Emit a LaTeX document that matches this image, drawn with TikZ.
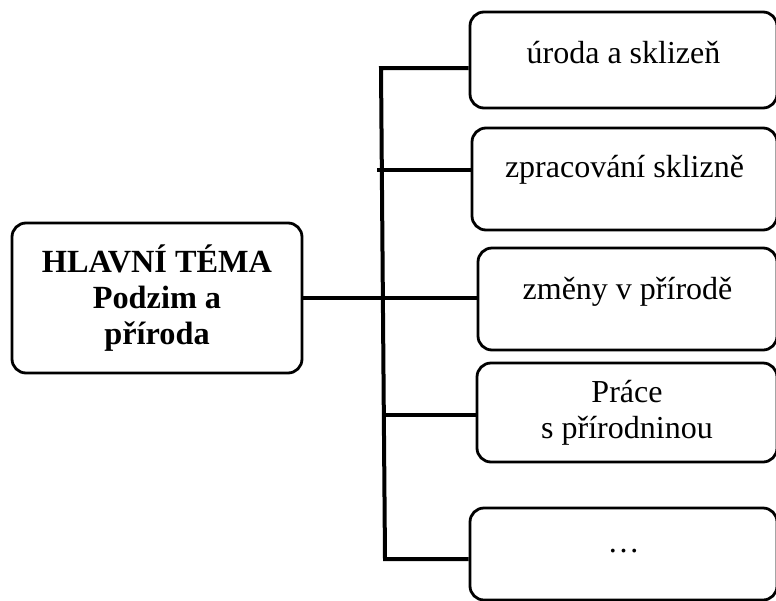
\documentclass[tikz,border=0pt]{standalone}
\usepackage{fontspec}
\setmainfont{Liberation Serif}
\newcommand{\themefont}{\fontsize{32.3}{36}\selectfont\bfseries}
\newcommand{\topicfont}{\fontsize{32}{36}\selectfont}
\tikzset{
    theme/.style={draw, line width=2.8pt, rounded corners=14pt, minimum width=290pt, minimum height=150pt, inner sep=0pt, align=center, font=\themefont},
    topic/.style={draw, line width=2.8pt, rounded corners=14pt, inner sep=0pt, align=center, font=\topicfont},
    lift/.style={text height=24pt, text depth=#1},
    branch/.style={line width=4pt, line join=miter},
}

\begin{document}
\begin{tikzpicture}[x=1pt,y=-1pt]
        \useasboundingbox (0,0) rectangle (776,600);
        \clip (0,0) rectangle (776,600);
        \node[theme] (theme) at (157,298) {HLAVNÍ TÉMA\\Podzim a\\příroda};
        \node[topic, lift=18pt, minimum width=307pt, minimum height=96pt] (b1) at (623.5,60) {úroda a sklizeň};
        \node[topic, lift=28pt, minimum width=305pt, minimum height=102pt] (b2) at (624.5,179) {zpracování sklizně};
        \node[topic, lift=24pt, minimum width=299pt, minimum height=102pt] (b3) at (627.5,299) {změny v přírodě};
        \node[topic, minimum width=300pt, minimum height=99pt] (b4) at (627,412.5) {Práce\\s přírodninou};
        \node[topic, lift=28pt, minimum width=307pt, minimum height=92pt] (b5) at (623.5,554) {\dots};
        \coordinate (j1) at (381,68);
        \coordinate (j2) at (377,170);
        \coordinate (j3) at (382,298);
        \coordinate (j4) at (384,415);
        \coordinate (j5) at (385,559);
        \draw[branch] (j1 -| b1.west) -- (j1) -- (j5) -- (j5 -| b5.west);
        \draw[branch] (j2) -- (j2 -| b2.west);
        \draw[branch] (theme.east) -- (j3) -- (j3 -| b3.west);
        \draw[branch] (j4) -- (j4 -| b4.west);
    \end{tikzpicture}
\end{document}
